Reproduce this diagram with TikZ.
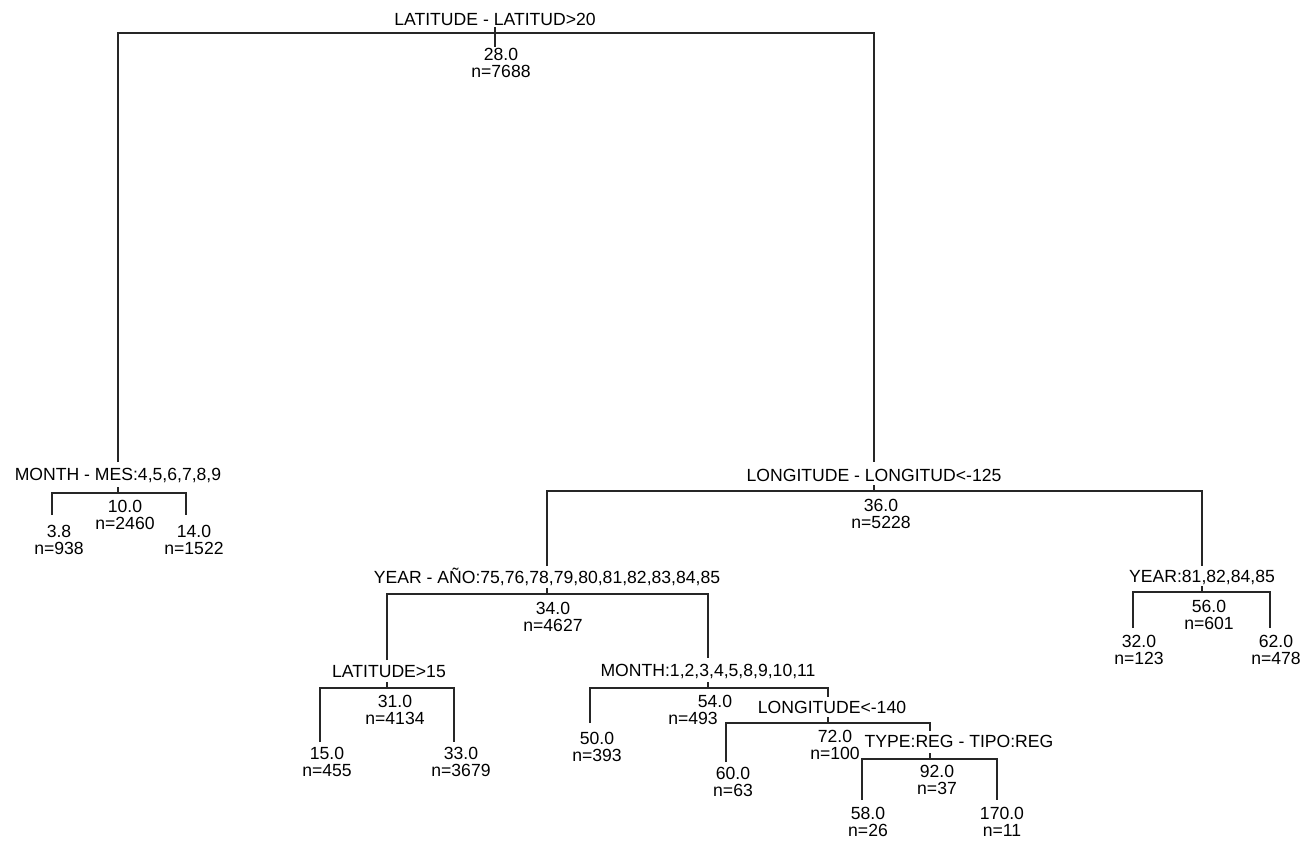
\documentclass[tikz,border=0pt]{standalone}
\usepackage{fontspec}
\setmainfont{Liberation Sans}
\begin{document}
\begin{tikzpicture}[x=1pt,y=-1pt,
  lbl/.style={font=\fontsize{17.6}{17}\selectfont,inner sep=0pt,anchor=base},
  val/.style={font=\fontsize{17.6}{17}\selectfont,inner sep=0pt,anchor=north,align=center},
  br/.style={draw=black!85,line width=1.2pt},
  stub/.style={draw=black!85,line width=1.2pt}]
\useasboundingbox (0,0) rectangle (1311,841);
% split points
\coordinate (root) at (495,33);
\coordinate (mes) at (118,493);
\coordinate (lon) at (874,491);
\coordinate (ya) at (547,594);
\coordinate (y81) at (1202,592);
\coordinate (l15) at (387,688);
\coordinate (mon) at (708,688);
\coordinate (l140) at (828,723);
\coordinate (typ) at (930,759);
% tops of child branches
\coordinate (mesT) at (118,462);
\coordinate (lonT) at (874,462);
\coordinate (yaT) at (547,566);
\coordinate (y81T) at (1202,566);
\coordinate (l15T) at (387,660);
\coordinate (monT) at (708,658);
\coordinate (l140T) at (828,697);
\coordinate (typT) at (930,731);
% leaf tops
\coordinate (mesL) at (52,515);
\coordinate (mesR) at (186,515);
\coordinate (y81L) at (1133,628);
\coordinate (y81R) at (1270,628);
\coordinate (l15L) at (320,742);
\coordinate (l15R) at (454,742);
\coordinate (monL) at (590,723);
\coordinate (l140L) at (726,762);
\coordinate (typL) at (862,800);
\coordinate (typR) at (997,800);
% branches
\draw[br] (mesT) |- (root) -| (lonT);
\draw[br] (mesL) |- (mes) -| (mesR);
\draw[br] (yaT) |- (lon) -| (y81T);
\draw[br] (l15T) |- (ya) -| (monT);
\draw[br] (y81L) |- (y81) -| (y81R);
\draw[br] (l15L) |- (l15) -| (l15R);
\draw[br] (monL) |- (mon) -| (l140T);
\draw[br] (l140L) |- (l140) -| (typT);
\draw[br] (typL) |- (typ) -| (typR);
% stubs
\draw[stub,line width=2.4pt] (495,27) -- (495,47);
\foreach \c in {mes,lon,ya,y81,l15,mon,l140,typ}
  \draw[stub] (\c) -- ++(0,-6);
% split labels
\node[lbl] (tRoot) at (495,25) {LATITUDE - LATITUD>20};
\node[lbl] (tMes) at (118,480) {MONTH - MES:4,5,6,7,8,9};
\node[lbl] (tLon) at (874,481) {LONGITUDE - LONGITUD<-125};
\node[lbl] (tYa) at (547,583) {YEAR - AÑO:75,76,78,79,80,81,82,83,84,85};
\node[lbl] (tY81) at (1202,582) {YEAR:81,82,84,85};
\node[lbl] (tL15) at (389,677) {LATITUDE>15};
\node[lbl] (tMon) at (708,676) {MONTH:1,2,3,4,5,8,9,10,11};
\node[lbl] (tL140) at (832,713) {LONGITUDE<-140};
\node[lbl] (tTyp) at (959,747) {TYPE:REG - TIPO:REG};
% values
\node[val] (vRoot) at (501,48) {28.0\\n=7688};
\node[val] (vMes) at (125,500) {10.0\\n=2460};
\node[val] (vLon) at (881,499) {36.0\\n=5228};
\node[val] (vYa) at (553,602) {34.0\\n=4627};
\node[val] (vY81) at (1209,600) {56.0\\n=601};
\node[val] (vL15) at (395,695) {31.0\\n=4134};
\node[val] (vMonA) at (715,695) {54.0};
\node[val] (vMonB) at (693,712) {n=493};
\node[val] (vL140) at (835,730) {72.0\\n=100};
\node[val] (vTyp) at (937,765) {92.0\\n=37};
% leaves
\node[val] (lf1) at (59,525) {3.8\\n=938};
\node[val] (lf2) at (194,525) {14.0\\n=1522};
\node[val] (lf3) at (1139,635) {32.0\\n=123};
\node[val] (lf4) at (1276,635) {62.0\\n=478};
\node[val] (lf5) at (327,747) {15.0\\n=455};
\node[val] (lf6) at (461,747) {33.0\\n=3679};
\node[val] (lf7) at (597,732) {50.0\\n=393};
\node[val] (lf8) at (733,767) {60.0\\n=63};
\node[val] (lf9) at (868,807) {58.0\\n=26};
\node[val] (lf10) at (1002,807) {170.0\\n=11};
\end{tikzpicture}
\end{document}
